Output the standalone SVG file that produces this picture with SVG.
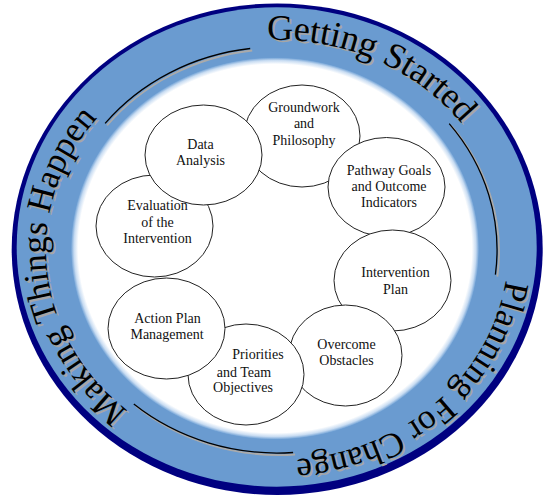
<svg xmlns="http://www.w3.org/2000/svg" xmlns:xlink="http://www.w3.org/1999/xlink" width="554" height="504" viewBox="0 0 554 504">
<style>
.node ellipse{fill:#fff;stroke:#222;stroke-width:1}
.node text{font-family:"Liberation Serif","Times New Roman",serif;font-size:14px;fill:#111;text-anchor:middle}
.ring{font-family:"Liberation Serif","Times New Roman",serif;font-size:35px}
.big{font-size:36px}
.arc{fill:none;stroke:#000;stroke-width:1.3}
.arcsh{fill:none;stroke:#aaa;stroke-width:1.8}
</style>
<defs>
<radialGradient id="inner" cx="0.5" cy="0.5" r="0.5">
<stop offset="0" stop-color="#fff"/>
<stop offset="0.965" stop-color="#fff"/>
<stop offset="0.985" stop-color="#c8dcf2"/>
<stop offset="1" stop-color="#6d9fd4"/>
</radialGradient>
<path id="textpath" d="M508,250 A231,210 0 1,1 46,250 A231,210 0 1,1 508,250"/>
<g id="ringtext" class="ring">
<text class="big"><textPath xlink:href="#textpath" href="#textpath" startOffset="1139" text-anchor="middle">Getting Started</textPath></text>
<text><textPath xlink:href="#textpath" href="#textpath" startOffset="179" text-anchor="middle">Planning For Change</textPath></text>
<text><textPath xlink:href="#textpath" href="#textpath" startOffset="672" text-anchor="middle">Making Things Happen</textPath></text>
</g>
<g id="arcpaths">
<path d="M105.1,123.4 A220,203 0 0,1 250.2,48.5"/>
<path d="M449.2,123.6 A220,203 0 0,1 495.4,274.7"/>
<path d="M293.1,452.5 A220,203 0 0,1 133.8,404.1"/>
</g>
</defs>

<g id="ring">
<ellipse cx="277.2" cy="249.2" rx="265.5" ry="245.8" fill="#000080"/>
<ellipse cx="276.7" cy="247" rx="260" ry="239.7" fill="#6a9bd0"/>
<ellipse cx="275" cy="248.5" rx="204" ry="191" fill="url(#inner)"/>
</g>

<g id="connectors">
<use href="#arcpaths" xlink:href="#arcpaths" class="arcsh" transform="translate(2,2)"/>
<use href="#arcpaths" xlink:href="#arcpaths" class="arc"/>
</g>

<g id="ring-labels">
<use href="#ringtext" xlink:href="#ringtext" fill="#a6a6a6" transform="translate(2,2)"/>
<use href="#ringtext" xlink:href="#ringtext" fill="#000"/>
</g>

<g id="node-groundwork" class="node">
<ellipse cx="302" cy="136" rx="58" ry="51"/>
<text x="304" y="112">Groundwork</text>
<text x="304" y="128">and</text>
<text x="304" y="145">Philosophy</text>
</g>
<g id="node-pathway" class="node">
<ellipse cx="386.5" cy="187" rx="58.5" ry="49.5"/>
<text x="389" y="175">Pathway Goals</text>
<text x="389" y="191">and Outcome</text>
<text x="389" y="207">Indicators</text>
</g>
<g id="node-intervention-plan" class="node">
<ellipse cx="392.5" cy="280.5" rx="58.5" ry="50.5"/>
<text x="395.5" y="277">Intervention</text>
<text x="395.5" y="294">Plan</text>
</g>
<g id="node-overcome" class="node">
<ellipse cx="345.5" cy="355.5" rx="56.5" ry="50.5"/>
<text x="346.5" y="349">Overcome</text>
<text x="346.5" y="365">Obstacles</text>
</g>
<g id="node-priorities" class="node">
<ellipse cx="246" cy="374.5" rx="58" ry="50.5"/>
<text x="258" y="359">Priorities</text>
<text x="244" y="377">and Team</text>
<text x="243" y="392">Objectives</text>
</g>
<g id="node-action-plan" class="node">
<ellipse cx="166.5" cy="328.5" rx="58.5" ry="50.5"/>
<text x="167.5" y="323">Action Plan</text>
<text x="167" y="339">Management</text>
</g>
<g id="node-evaluation" class="node">
<ellipse cx="154.5" cy="226" rx="58.5" ry="51"/>
<text x="157.5" y="210">Evaluation</text>
<text x="157.5" y="227">of the</text>
<text x="157.5" y="243">Intervention</text>
</g>
<g id="node-data-analysis" class="node">
<ellipse cx="203.5" cy="155" rx="58.5" ry="50"/>
<text x="200.5" y="149">Data</text>
<text x="200.5" y="165">Analysis</text>
</g>
</svg>
